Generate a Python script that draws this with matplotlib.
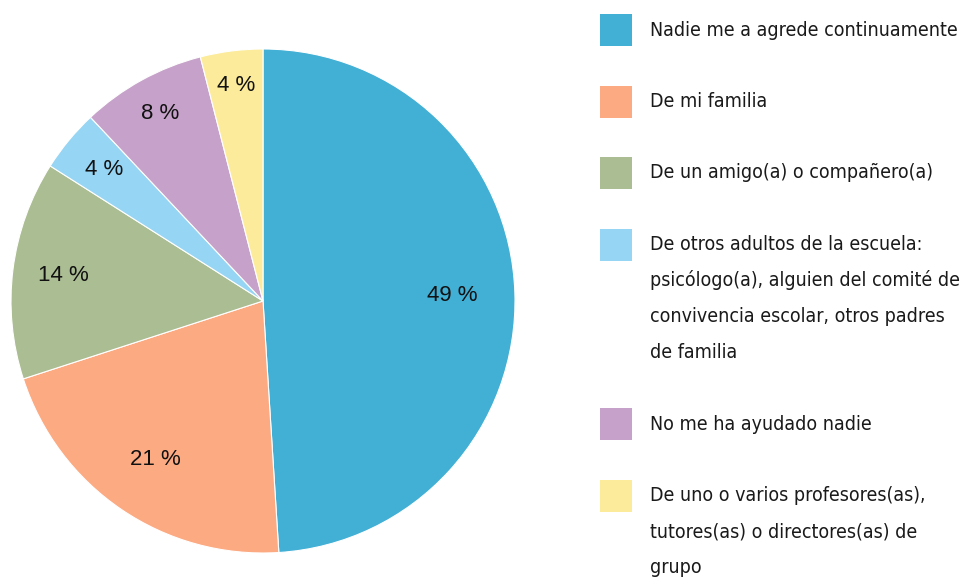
import numpy as np
import matplotlib.pyplot as plt
from matplotlib.patches import Rectangle

# slice values (percent), clockwise from the top
values = [49, 21, 14, 4, 8, 4]
labels = [
    ["Nadie me a agrede continuamente"],
    ["De mi familia"],
    ["De un amigo(a) o compañero(a)"],
    ["De otros adultos de la escuela:",
     "psicólogo(a), alguien del comité de",
     "convivencia escolar, otros padres",
     "de familia"],
    ["No me ha ayudado nadie"],
    ["De uno o varios profesores(as),",
     "tutores(as) o directores(as) de",
     "grupo"],
]
colors = ["#42afd5", "#fcaa82", "#abbd92", "#96d5f3", "#c6a1c9", "#fbeb9a"]
# radial position of each percent label (fraction of radius)
label_r = [0.75, 0.76, 0.8, 0.82, 0.85, 0.86]


def main():
    fig = plt.figure(figsize=(9.63, 5.81), dpi=100)

    # pie
    ax = fig.add_axes([11 / 963, 28 / 581, 504 / 963, 504 / 581])
    wedges, _ = ax.pie(values, colors=colors, startangle=90, counterclock=False,
                       wedgeprops=dict(edgecolor="white", linewidth=0.8))
    ax.set_xlim(-1, 1)
    ax.set_ylim(-1, 1)
    ax.set_aspect("equal")

    for w, v, r in zip(wedges, values, label_r):
        ang = np.deg2rad((w.theta1 + w.theta2) / 2)
        ax.text(r * np.cos(ang), r * np.sin(ang), f"{v} %",
                ha="center", va="center", fontsize=16,
                family="Liberation Sans", color="#111111")

    # legend drawn by hand, in pixel coordinates
    lax = fig.add_axes([0, 0, 1, 1])
    lax.set_xlim(0, 963)
    lax.set_ylim(581, 0)
    lax.axis("off")

    line_h = 36
    y = 30
    for lines, c in zip(labels, colors):
        lax.add_patch(Rectangle((600, y - 16), 32, 32, color=c, lw=0))
        for i, s in enumerate(lines):
            lax.text(650, y + i * line_h, s, ha="left", va="center",
                     fontsize=14, family="DejaVu Sans", fontstretch="condensed",
                     color="#1a1a1a")
        y += (len(lines) + 1) * line_h - 0.5

    fig.savefig("out.png", dpi=100)


if __name__ == '__main__':
    main()
